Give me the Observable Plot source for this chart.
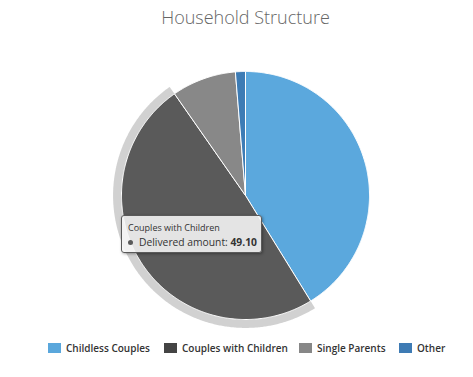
<!DOCTYPE html>
<html><head><meta charset="utf-8">
<script src="https://cdn.jsdelivr.net/npm/d3@7"></script>
<script src="https://cdn.jsdelivr.net/npm/@observablehq/plot@0.6"></script>
<style>
body{margin:0;background:#fff;}
#wrap{position:relative;width:473px;height:377px;overflow:hidden;font-family:"Open Sans",sans-serif;}
#title{position:absolute;top:5px;left:0;width:491px;text-align:center;font-size:18px;font-weight:300;color:#666;line-height:24px;}
#chart{position:absolute;left:0;top:40px;}
#tip{position:absolute;left:121px;top:215px;width:139px;height:36px;box-sizing:content-box;border:1px solid #5a5a5a;border-radius:3px;background:rgba(247,247,247,0.88);box-shadow:1px 1px 3px rgba(0,0,0,0.35);color:#333;}
#tip .h{position:absolute;left:6px;top:6px;font-size:9px;line-height:12px;white-space:nowrap;}
#tip .b{position:absolute;left:6px;top:19px;font-size:10.3px;line-height:15px;white-space:nowrap;display:flex;align-items:center;}
#tip .dot{width:5px;height:5px;border-radius:50%;margin-right:6px;display:inline-block;}
.item{position:absolute;top:341px;height:14px;display:flex;align-items:center;font-size:10px;font-weight:600;color:#333;white-space:nowrap;}
.sw{width:13px;height:10px;margin-right:5px;display:inline-block;}
</style></head>
<body><div id="wrap">
<div id="title"></div>
<div id="chart"></div>
<div id="tip"></div>
<div id="legend"></div>
</div>
<script>
const title = "Household Structure";
const categories = ["Childless Couples", "Couples with Children", "Single Parents", "Other"];
const values = [41.2, 49.1, 8.4, 1.3];
const sliceColors = ["#5ba8dd", "#5a5a5a", "#888888", "#3d7cb5"];
const legendColors = ["#5aa7dc", "#444444", "#878787", "#3e7bb4"];
const seriesName = "Delivered amount";
const hoverIndex = 1;
const legendX = [48, 164, 299, 399];

document.getElementById("title").textContent = title;

const arcs = d3.pie().sort(null).value(d => d)(values);
const step = Math.PI / 360;
function sector(cat, a0, a1, r) {
  const pts = [{cat, x: 0, y: 0}];
  const n = Math.max(2, Math.ceil((a1 - a0) / step));
  for (let k = 0; k <= n; k++) {
    const a = a0 + (a1 - a0) * k / n;
    pts.push({cat, x: r * Math.sin(a), y: r * Math.cos(a)});
  }
  pts.push({cat, x: 0, y: 0});
  return pts;
}
const slicePts = arcs.flatMap((a, i) => sector(categories[i], a.startAngle, a.endAngle, 1));
const h = arcs[hoverIndex];
const haloPts = sector(categories[hoverIndex], h.startAngle, h.endAngle, 1.068);

const chart = Plot.plot({
  width: 473, height: 290,
  marginLeft: 121, marginRight: 104, marginTop: 31, marginBottom: 11,
  x: {domain: [-1, 1], axis: null},
  y: {domain: [-1, 1], axis: null},
  color: {domain: categories, range: sliceColors},
  marks: [
    Plot.line(haloPts, {x: "x", y: "y", z: "cat", fill: "#555555", fillOpacity: 0.27, stroke: "none"}),
    Plot.line(slicePts, {x: "x", y: "y", z: "cat", fill: "cat", stroke: "white", strokeWidth: 1, strokeLinejoin: "round"})
  ]
});
document.getElementById("chart").appendChild(chart);

const tip = document.getElementById("tip");
tip.innerHTML = `<div class="h"></div><div class="b"><span class="dot" style="background:${sliceColors[hoverIndex]}"></span><span class="l"></span>&nbsp;<b class="v"></b></div>`;
tip.querySelector(".h").textContent = categories[hoverIndex];
tip.querySelector(".l").textContent = seriesName + ":";
tip.querySelector(".v").textContent = values[hoverIndex].toFixed(2);

const legend = document.getElementById("legend");
categories.forEach((c, i) => {
  const it = document.createElement("div");
  it.className = "item";
  it.style.left = legendX[i] + "px";
  it.innerHTML = `<span class="sw" style="background:${legendColors[i]}"></span>`;
  const t = document.createElement("span");
  t.textContent = c;
  it.appendChild(t);
  legend.appendChild(it);
});
</script>
</body></html>
